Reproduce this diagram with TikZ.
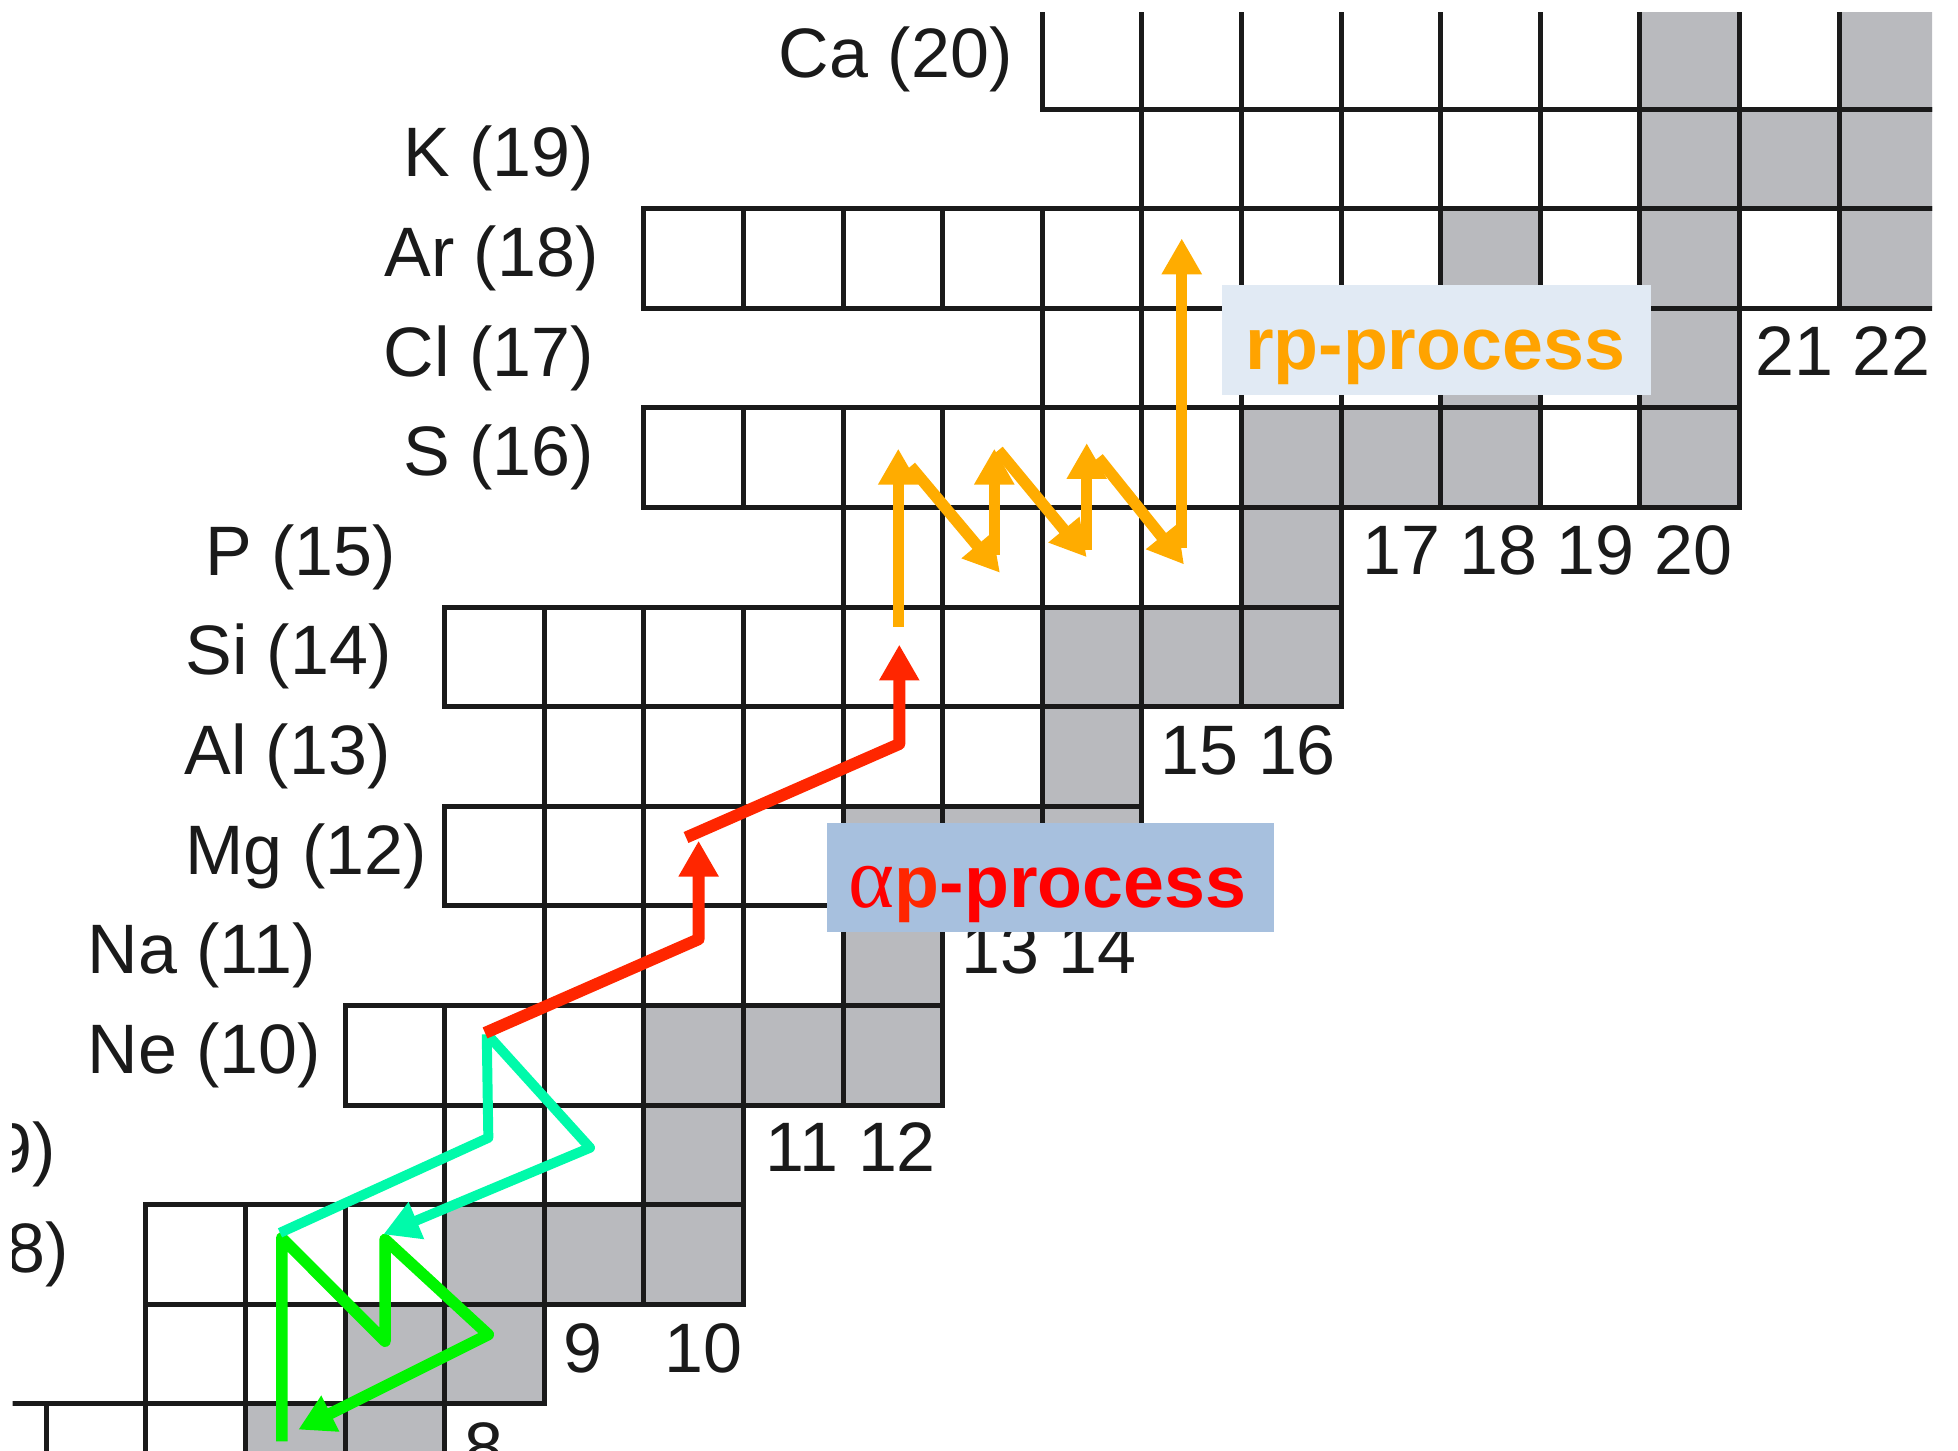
\documentclass[tikz,border=0pt]{standalone}
\usepackage{fontspec}
\setmainfont{Liberation Sans}
\newfontfamily\greekserif{Liberation Serif}
\usetikzlibrary{arrows.meta}

\definecolor{gridline}{RGB}{26,26,26}
\definecolor{stablecell}{RGB}{185,186,190}
\definecolor{rporange}{RGB}{255,172,0}
\definecolor{rptext}{RGB}{255,163,0}
\definecolor{apred}{RGB}{255,38,0}
\definecolor{aptext}{RGB}{255,0,0}
\definecolor{cnomint}{RGB}{0,250,170}
\definecolor{cnogreen}{RGB}{0,245,0}
\definecolor{rpboxfill}{RGB}{225,234,244}
\definecolor{apboxfill}{RGB}{167,192,222}

\tikzset{
  cellframe/.style={draw=gridline, line width=0.05cm},
  stable/.style={fill=stablecell},
  elem/.style={anchor=base west, inner sep=0pt, text=gridline,
    font=\fontsize{20}{24}\selectfont},
  elemright/.style={elem, anchor=base east},
  nnum/.style={anchor=base, inner sep=0pt, text=gridline,
    font=\fontsize{20}{24}\selectfont},
  flowhead/.style={-{Triangle[length=0.36cm,width=0.38cm]}},
  rpflow/.style={draw=rporange, line width=0.115cm, line join=round, flowhead},
  apflow/.style={draw=apred, line width=0.12cm, line join=round},
  hcnoflow/.style={draw=cnomint, line width=0.10cm, line join=round},
  cnoflow/.style={draw=cnogreen, line width=0.115cm, line join=round},
  procbox/.style={inner sep=0pt, outer sep=0pt},
  proclabel/.style={anchor=base, inner sep=0pt,
    font=\bfseries\fontsize{21}{25}\selectfont},
}

\begin{document}
\begin{tikzpicture}
\useasboundingbox (3.536,6.528) rectangle (23.195,21.096);

\begin{scope}
\clip (3.662,6.4) rectangle (22.934,20.975);

% stable isotopes (grey cells), by neutron number / proton number
\foreach \n/\z in {20/20,22/20, 20/19,21/19,22/19, 18/18,20/18,22/18,
  18/17,20/17, 16/16,17/16,18/16,20/16, 16/15, 14/14,15/14,16/14, 14/13,
  12/12,13/12,14/12, 12/11, 10/10,11/10,12/10, 10/9, 8/8,9/8,10/8,
  7/7,8/7, 6/6,7/6}
  \fill[stable] (\n,\z) rectangle ++(1,1);

% cell frames: row Z runs from neutron number a to b
\foreach \z/\a/\b in {20/14/22, 19/15/22, 18/10/22, 17/14/20, 16/10/20,
  15/12/16, 14/8/16, 13/9/14, 12/8/14, 11/9/12, 10/7/12, 9/8/10, 8/5/10,
  7/5/8, 6/3/7}
  \foreach \n in {\a,...,\b}
    \draw[cellframe] (\n,\z) rectangle ++(1,1);

% element names with proton numbers
\node[elem] (zCa) at (11.35,20.32) {Ca (20)};
\node[elem] (zK)  at (7.58,19.32) {K (19)};
\node[elem] (zAr) at (7.39,18.32) {Ar (18)};
\node[elem] (zCl) at (7.38,17.32) {Cl (17)};
\node[elem] (zS)  at (7.58,16.32) {S (16)};
\node[elem] (zP)  at (5.59,15.32) {P (15)};
\node[elem] (zSi) at (5.39,14.32) {Si (14)};
\node[elem] (zAl) at (5.38,13.32) {Al (13)};
\node[elem] (zMg) at (5.39,12.32) {Mg (12)};
\node[elem] (zNa) at (4.41,11.32) {Na (11)};
\node[elem] (zNe) at (4.41,10.32) {Ne (10)};
\node[elemright] (zF) at (4.10,9.32) {F (9)};
\node[elemright] (zO) at (4.23,8.32) {O (8)};

% neutron numbers
\node[nnum] (n2122) at (22.04,17.33) {21 22};
\node[nnum] (n1720) at (19.07,15.33) {17 18 19 20};
\node[nnum] (n1516) at (16.07,13.32) {15 16};
\node[nnum] (n1314) at (14.07,11.32) {13 14};
\node[nnum] (n1112) at (12.08,9.33) {11 12};
\node[nnum] (n10)   at (10.60,7.32) {10};
\node[nnum] (n9)    at (9.385,7.32) {9};
\node[nnum] (n8)    at (8.394,6.32) {8};
\end{scope}

% process labels
\node[procbox, fill=rpboxfill, minimum width=4.308cm, minimum height=1.105cm]
  (rpbox) at (17.956,17.680) {};
\node[proclabel, text=rptext] (rptxt) at (17.944,17.39) {rp-process};
\node[procbox, fill=apboxfill, minimum width=4.491cm, minimum height=1.099cm]
  (apbox) at (14.082,12.283) {};
\node[proclabel] (aptxt) at (14.053,11.984)
  {{\greekserif\mdseries\fontsize{25}{28}\selectfont\color{aptext}α}\color{apred}p\color{aptext}-process};

% waypoints of the reaction flows
\coordinate (g0) at (6.365,6.624);
\coordinate (g1) at (6.365,8.667);
\coordinate (g2) at (7.402,7.629);
\coordinate (g3) at (7.402,8.651);
\coordinate (g4) at (8.439,7.696);
\coordinate (g5) at (6.531,6.742);

\coordinate (t0) at (8.423,10.711);
\coordinate (t1) at (8.439,9.672);
\coordinate (t2) at (6.347,8.718);
\coordinate (u0) at (8.452,10.685);
\coordinate (u1) at (9.460,9.572);
\coordinate (u2) at (7.385,8.702);

\coordinate (a0) at (8.406,10.725);
\coordinate (a1) at (10.550,11.666);
\coordinate (a2) at (10.550,12.654);
\coordinate (b0) at (10.424,12.687);
\coordinate (b1) at (12.565,13.626);
\coordinate (b2) at (12.565,14.624);

\coordinate (o1s) at (12.555,14.805); \coordinate (o1e) at (12.555,16.591);
\coordinate (o2s) at (12.679,16.413); \coordinate (o2e) at (13.576,15.345);
\coordinate (o3s) at (13.519,15.526); \coordinate (o3e) at (13.519,16.591);
\coordinate (o4s) at (13.559,16.574); \coordinate (o4e) at (14.447,15.501);
\coordinate (o5s) at (14.447,15.569); \coordinate (o5e) at (14.447,16.647);
\coordinate (o6s) at (14.563,16.500); \coordinate (o6e) at (15.424,15.428);
\coordinate (o7s) at (15.401,15.596); \coordinate (o7e) at (15.401,18.702);

% CNO cycle
\draw[cnoflow, flowhead] (g0) -- (g1) -- (g2) -- (g3) -- (g4) -- (g5);
% hot CNO cycle
\draw[hcnoflow] (t0) -- (t1) -- (t2);
\draw[hcnoflow, flowhead] (u0) -- (u1) -- (u2);
% alpha-p process
\draw[apflow, flowhead] (a0) -- (a1) -- (a2);
\draw[apflow, flowhead] (b0) -- (b1) -- (b2);
% rp process
\draw[rpflow] (o1s) -- (o1e);
\draw[rpflow] (o2s) -- (o2e);
\draw[rpflow] (o3s) -- (o3e);
\draw[rpflow] (o4s) -- (o4e);
\draw[rpflow] (o5s) -- (o5e);
\draw[rpflow] (o6s) -- (o6e);
\draw[rpflow] (o7s) -- (o7e);
\end{tikzpicture}
\end{document}
